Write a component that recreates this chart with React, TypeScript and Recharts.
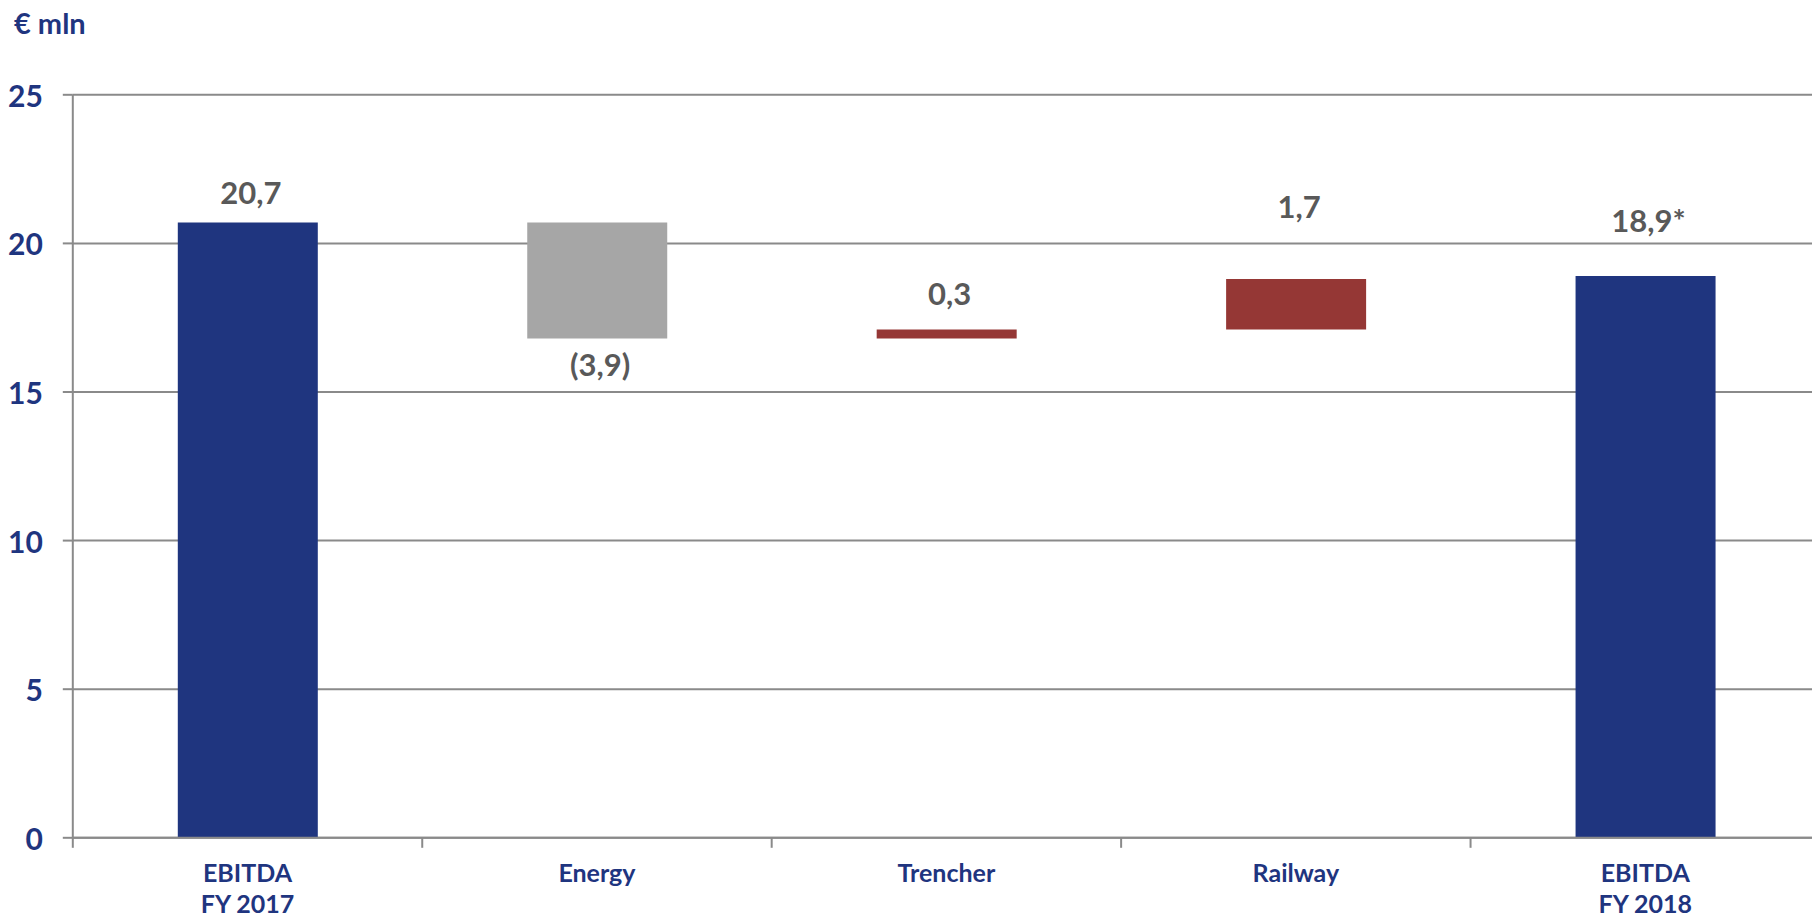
import React from "react";
import { BarChart, Bar, XAxis, YAxis, CartesianGrid, Cell, LabelList } from "recharts";

const categories = ["EBITDA\nFY 2017", "Energy", "Trencher", "Railway", "EBITDA\nFY 2018"];
const baseValues = [0, 16.8, 16.8, 17.1, 0];
const deltaValues = [20.7, 3.9, 0.3, 1.7, 18.9];
const labelTexts = ["20,7", "(3,9)", "0,3", "1,7", "18,9*"];
const yTicks = [0, 5, 10, 15, 20, 25];

const barColors = ["#1F357F", "#A6A6A6", "#953735", "#953735", "#1F357F"];
// label gap from bar edge (positive = above top, negative = below bottom)
const labelGaps = [31, -25, 37, 73, 56];

const NAVY = "#1F357F";
const GRID = "#8A8A8A";
const FONT = "Lato, 'Noto Sans', sans-serif";

const data = categories.map((c, i) => ({
  name: c,
  base: baseValues[i],
  delta: deltaValues[i],
}));

const XTick = (props: any) => {
  const { x, y, payload } = props;
  const lines = String(payload.value).split("\n");
  const half = payload && payload.offset ? payload.offset : 0;
  const axisY = y - 10;
  return (
    <g>
      {half ? (
        <line x1={x - half} x2={x - half} y1={axisY} y2={axisY + 10} stroke={GRID} strokeWidth={2} />
      ) : null}
      {lines.map((l, i) => (
        <text
          key={i}
          x={x}
          y={y + 24 + i * 31}
          textAnchor="middle"
          dominantBaseline="central"
          fill={NAVY}
          fontFamily={FONT}
          fontWeight={700}
          fontSize={25}
        >
          {l}
        </text>
      ))}
    </g>
  );
};

const YTick = (props: any) => {
  const { x, y, payload } = props;
  return (
    <text
      x={x}
      y={y}
      textAnchor="end"
      dominantBaseline="central"
      fill={NAVY}
      fontFamily={FONT}
      fontWeight={700}
      fontSize={30}
    >
      {payload.value}
    </text>
  );
};

const BarLabel = (props: any) => {
  const { x, y, width, height, index } = props;
  const gap = labelGaps[index];
  const top = Math.min(y, y + height);
  const bottom = Math.max(y, y + height);
  const cy = gap >= 0 ? top - gap : bottom - gap;
  return (
    <text
      x={x + width / 2 + 3}
      y={cy}
      textAnchor="middle"
      dominantBaseline="central"
      fill="#595959"
      fontFamily={FONT}
      fontWeight={700}
      fontSize={31}
    >
      {labelTexts[index]}
    </text>
  );
};

export default function App() {
  return (
    <div
      style={{
        position: "fixed",
        left: 0,
        top: 0,
        width: 1812,
        height: 917,
        overflow: "hidden",
        background: "#fff",
      }}
    >
      <div
        style={{
          position: "absolute",
          left: 14,
          top: 7,
          lineHeight: "32px",
          fontFamily: FONT,
          fontWeight: 700,
          fontSize: 29,
          color: NAVY,
        }}
      >
        € mln
      </div>
      <BarChart
        width={1820}
        height={917}
        data={data}
        margin={{ top: 94.8, right: 0, bottom: 0, left: 0 }}
        barSize={140}
      >
        <CartesianGrid vertical={false} stroke={GRID} strokeWidth={2} />
        <XAxis
          dataKey="name"
          interval={0}
          tick={<XTick />}
          tickSize={10}
          tickMargin={0}
          axisLine={{ stroke: GRID, strokeWidth: 2 }}
          tickLine={false}
          height={79.2}
        />
        <YAxis
          width={72.8}
          domain={[0, 25]}
          ticks={yTicks}
          tick={<YTick />}
          tickSize={10}
          tickMargin={20}
          axisLine={{ stroke: GRID, strokeWidth: 2 }}
          tickLine={{ stroke: GRID, strokeWidth: 2 }}
        />
        <Bar dataKey="base" stackId="a" fill="transparent" isAnimationActive={false} />
        <Bar dataKey="delta" stackId="a" isAnimationActive={false}>
          {data.map((d, i) => (
            <Cell key={i} fill={barColors[i]} />
          ))}
          <LabelList dataKey="delta" content={<BarLabel />} />
        </Bar>
      </BarChart>
    </div>
  );
}
